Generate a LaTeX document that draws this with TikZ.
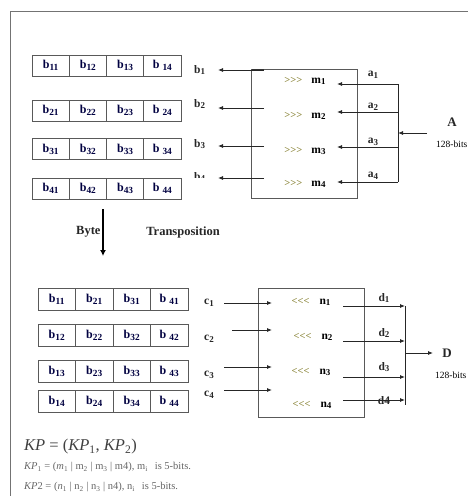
\documentclass[tikz,border=0pt]{standalone}
\usepackage{fontspec}
\usepackage{graphicx}
\setmainfont{Liberation Serif}
\usetikzlibrary{arrows.meta}
\newcommand\subt[2]{#1\raisebox{-0.35ex}{\scalebox{0.78}{#2}}}
\newcommand\shr{\textcolor{olive!55!gray}{\fontsize{10.5}{10.5}\selectfont\bfseries >{}>{}>}}
\newcommand\shl{\textcolor{olive!55!gray}{\fontsize{10.5}{10.5}\selectfont\bfseries <{}<{}<}}
\begin{document}
\begin{tikzpicture}[x=1pt,y=-1pt,
  cell/.style={draw=black!65, line width=0.9pt, minimum width=37.25pt, minimum height=21pt, inner sep=0pt,
    font=\fontsize{12}{12}\selectfont\bfseries, text=black!75!blue},
  lbl/.style={font=\fontsize{11.5}{11.5}\selectfont\bfseries, inner sep=0pt, text=black!85},
  arr/.style={-{Latex[length=5pt,width=4pt]}, line width=0.8pt, draw=black!85},
  wire/.style={line width=0.8pt, draw=black!85},
  blk/.style={draw=black!65, line width=0.9pt, minimum width=106pt, minimum height=129pt, inner sep=0pt},
  small/.style={font=\fontsize{9.5}{10}\selectfont, inner sep=0pt},
  note/.style={text=black!60, inner sep=0pt, anchor=west}]
\useasboundingbox (0,0) rectangle (468,496);
% frame
\draw[draw=black!55, line width=1pt] (10,496) -- (10,11) -- (468,11);

% top byte rows
\foreach \r/\y in {1/65.5,2/110.5,3/149,4/188.5}{
  \foreach \c/\x in {1/50.6,2/87.9,3/125.1}{
    \node[cell] (t\r\c) at (\x,\y) {\subt{b}{\r\c}};
  }
  \node[cell] (t\r4) at (162.4,\y) {b \subt{}{\r4}};
}
% labels b1..b4
\node[lbl, anchor=west] (b1) at (194,70) {\subt{b}{1}};
\node[lbl, anchor=west] (b2) at (194,104) {\subt{b}{2}};
\node[lbl, anchor=west] (b3) at (194,144) {\subt{b}{3}};
\begin{scope}
  \clip (190,165) rectangle (215,177.5);
  \node[lbl, anchor=west] (b4) at (194,177) {\subt{b}{4}};
\end{scope}

% top block
\node[blk] (M) at (304,133.5) {};
\node[inner sep=0pt] (m1) at (305,81) {\shr\hspace{9pt}\textbf{\fontsize{11.5}{11.5}\selectfont\subt{m}{1}}};
\node[inner sep=0pt] (m2) at (305,116) {\shr\hspace{9pt}\textbf{\fontsize{11.5}{11.5}\selectfont\subt{m}{2}}};
\node[inner sep=0pt] (m3) at (305,151) {\shr\hspace{9pt}\textbf{\fontsize{11.5}{11.5}\selectfont\subt{m}{3}}};
\node[inner sep=0pt] (m4) at (305,184) {\shr\hspace{9pt}\textbf{\fontsize{11.5}{11.5}\selectfont\subt{m}{4}}};

% left outputs of top block
\coordinate (lo1) at (264,70);  \coordinate (le1) at (218,70);
\coordinate (lo2) at (264,108); \coordinate (le2) at (218,108);
\coordinate (lo3) at (264,146); \coordinate (le3) at (218,146);
\coordinate (lo4) at (264,178); \coordinate (le4) at (218,178);
\foreach \i in {1,...,4}{\draw[arr] (lo\i) -- (le\i);}
\draw[line width=1.6pt, draw=black!80] (252,69.5) -- (264,69.5);

% right inputs of top block
\coordinate (ra1) at (398,84);
\coordinate (ra2) at (398,112);
\coordinate (ra3) at (398,147);
\coordinate (ra4) at (398,182);
\coordinate (ma1) at (337,84);
\coordinate (ma2) at (337,112);
\coordinate (ma3) at (337,147);
\coordinate (ma4) at (337,182);
\draw[wire] (ra1) -- (ra4);
\foreach \i in {1,...,4}{\draw[arr] (ra\i) -- (ma\i);}
\node[lbl] (a1) at (373,75) {\subt{a}{1}};
\node[lbl] (a2) at (373,107) {\subt{a}{2}};
\node[lbl] (a3) at (373,142) {\subt{a}{3}};
\node[lbl] (a4) at (373,176) {\subt{a}{4}};
\coordinate (ain) at (427,133);
\coordinate (aj) at (398,133);
\draw[arr] (ain) -- (aj);
\node[lbl, font=\fontsize{13}{13}\selectfont\bfseries] (A) at (452,122) {A};
\node[small, anchor=west] (Abits) at (436,144) {128-bits};

% byte transposition arrow
\coordinate (tr0) at (103,209);
\coordinate (tr1) at (103,256);
\node[lbl, font=\fontsize{12.5}{12.5}\selectfont\bfseries, anchor=west] (byte) at (76,232) {Byte};
\node[lbl, font=\fontsize{12.5}{12.5}\selectfont\bfseries] (trans) at (183,232) {Transposition};
\draw[-{Latex[length=6pt,width=6pt]}, line width=2pt] (tr0) -- (tr1);

% bottom byte rows (transposed)
\foreach \r/\y in {1/299.5,2/335,3/371,4/401}{
  \foreach \c/\x in {1/56.75,2/94.25,3/131.75}{
    \node[cell, minimum width=37.5pt, minimum height=22pt] (u\r\c) at (\x,\y) {\subt{b}{\c\r}};
  }
  \node[cell, minimum width=37.5pt, minimum height=22pt] (u\r4) at (169.25,\y) {b \subt{}{4\r}};
}
\node[lbl] (c1) at (209,303) {\subt{c}{1}};
\node[lbl] (c2) at (209,339) {\subt{c}{2}};
\node[lbl] (c3) at (209,375) {\subt{c}{3}};
\node[lbl] (c4) at (209,395) {\subt{c}{4}};

% bottom block
\node[blk] (N) at (311,352.5) {};
\node[inner sep=0pt] (n1) at (311,302) {\shl\hspace{10pt}\textbf{\fontsize{11.5}{11.5}\selectfont\subt{n}{1}}};
\node[inner sep=0pt] (n2) at (313,337) {\shl\hspace{10pt}\textbf{\fontsize{11.5}{11.5}\selectfont\subt{n}{2}}};
\node[inner sep=0pt] (n3) at (311,372) {\shl\hspace{10pt}\textbf{\fontsize{11.5}{11.5}\selectfont\subt{n}{3}}};
\node[inner sep=0pt] (n4) at (312,405) {\shl\hspace{10pt}\textbf{\fontsize{11.5}{11.5}\selectfont\subt{n}{4}}};

\coordinate (cs1) at (224,303); \coordinate (ce1) at (272,303);
\coordinate (cs2) at (232,330); \coordinate (ce2) at (272,330);
\coordinate (cs3) at (224,367); \coordinate (ce3) at (272,367);
\coordinate (cs4) at (224,390); \coordinate (ce4) at (272,390);
\foreach \i in {1,...,4}{\draw[arr] (cs\i) -- (ce\i);}

\coordinate (ds1) at (343,306); \coordinate (de1) at (405,306);
\coordinate (ds2) at (343,341); \coordinate (de2) at (405,341);
\coordinate (ds3) at (343,377); \coordinate (de3) at (405,377);
\coordinate (ds4) at (343,400); \coordinate (de4) at (405,400);
\foreach \i in {1,...,4}{\draw[arr] (ds\i) -- (de\i);}
\coordinate (dv) at (405,405);
\draw[wire] (de1) -- (dv);
\node[lbl] (d1) at (384,298) {\subt{d}{1}};
\node[lbl] (d2) at (384,333) {\subt{d}{2}};
\node[lbl] (d3) at (384,367) {\subt{d}{3}};
\node[lbl] (d4) at (384,401) {d4};
\coordinate (dj) at (405,353);
\coordinate (dout) at (433,353);
\draw[arr] (dj) -- (dout);
\node[lbl, font=\fontsize{13}{13}\selectfont\bfseries] (D) at (447,353) {D};
\node[small, anchor=west] (Dbits) at (435,375) {128-bits};

% formulas
\node[note, text=black!75] (kp) at (24,447) {\fontsize{16.5}{16.5}\selectfont\itshape KP\/ \upshape= (\itshape KP\textsubscript{\upshape 1}\upshape, \itshape KP\textsubscript{\upshape 2}\upshape)};
\node[note] (kp1) at (24,467) {\fontsize{10.5}{11}\selectfont \textit{KP}\textsubscript{1} = (\textit{m}\textsubscript{1} | m\textsubscript{2} | m\textsubscript{3} | m4), m\textsubscript{i} \, is 5-bits.};
\node[note] (kp2) at (24,487) {\fontsize{10.5}{11}\selectfont \textit{KP}2 = (\textit{n}\textsubscript{1} | n\textsubscript{2} | n\textsubscript{3} | n4), n\textsubscript{i} \, is 5-bits.};
\end{tikzpicture}
\end{document}
